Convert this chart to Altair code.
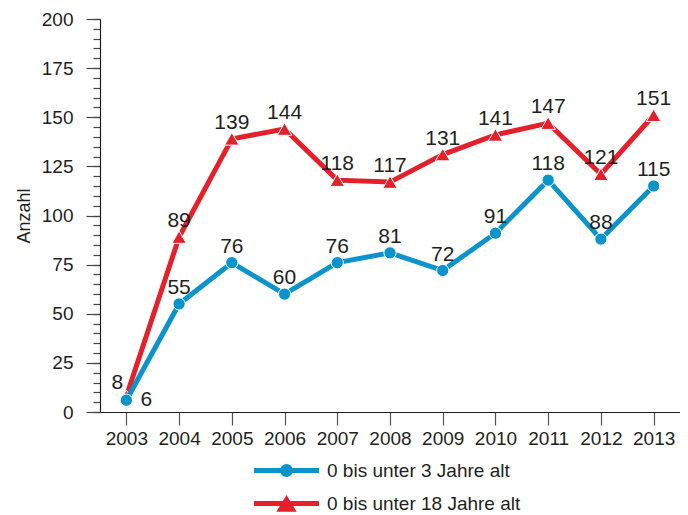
import altair as alt
import pandas as pd

years = [str(y) for y in range(2003, 2014)]
under3 = [6, 55, 76, 60, 76, 81, 72, 91, 118, 88, 115]
under18 = [8, 89, 139, 144, 118, 117, 131, 141, 147, 121, 151]
series = ["0 bis unter 3 Jahre alt", "0 bis unter 18 Jahre alt"]
colors = ["#0a94cb", "#e5202a"]
major_ticks = list(range(0, 201, 25))
minor_ticks = list(range(0, 201, 5))

rows = []
for s, vals in zip(series, [under3, under18]):
    for y, v in zip(years, vals):
        rows.append({"Jahr": y, "Anzahl": v, "Reihe": s})
df = pd.DataFrame(rows)

FONT = "Liberation Sans"
TXT = "#231f20"

x_enc = alt.X(
    "Jahr:O",
    scale=alt.Scale(type="point", padding=0.5),
    axis=alt.Axis(
        title=None, labelAngle=0, tickSize=13, tickColor="#555", tickWidth=1.2,
        domainColor=TXT, domainWidth=1.2, labelFontSize=19, labelColor=TXT,
        labelPadding=4, labelFont=FONT, grid=False,
    ),
)
y_scale = alt.Scale(domain=[0, 200], nice=False)
y_main = alt.Y(
    "Anzahl:Q",
    scale=y_scale,
    axis=alt.Axis(
        orient="left", values=major_ticks, tickSize=14, tickColor="#444", tickWidth=1.2,
        domainColor=TXT, domainWidth=1.2, labelFontSize=19, labelColor=TXT,
        labelPadding=13, labelFont=FONT, grid=False, title="Anzahl",
        titleFontSize=18, titleFontWeight="normal", titleColor=TXT, titleFont=FONT,
        titlePadding=8,
    ),
)
y_minor = alt.Y(
    "Anzahl:Q",
    scale=y_scale,
    axis=alt.Axis(
        orient="left", values=minor_ticks, tickSize=7, tickColor="#444", tickWidth=1.2,
        labels=False, domain=False, grid=False, title=None,
    ),
)
y_enc = alt.Y("Anzahl:Q", scale=y_scale, axis=None)

base = alt.Chart(df)

main_axis_layer = base.mark_point(opacity=0).encode(x=x_enc, y=y_main)
minor_layer = base.mark_point(opacity=0).encode(x=x_enc, y=y_minor)

layers = []
shapes = ["circle", "triangle-up"]
sizes = [150, 210]

order = [1, 0]  # red first, blue on top
for i in order:
    s, c = series[i], colors[i]
    sub = base.transform_filter(alt.datum.Reihe == s)
    layers.append(sub.mark_line(color=c, strokeWidth=5).encode(x=x_enc, y=y_enc))
    layers.append(
        sub.mark_point(filled=True, shape=shapes[i], size=sizes[i], color=c,
                       opacity=1, stroke="white", strokeWidth=1).encode(x=x_enc, y=y_enc)
    )

for i in order:
    s = series[i]
    layers.append(
        base.transform_filter((alt.datum.Reihe == s) & (alt.datum.Jahr != "2003"))
        .mark_text(dy=-16, fontSize=21, color=TXT, font=FONT)
        .encode(x=x_enc, y=y_enc, text="Anzahl:Q")
    )

# first-year labels placed beside the points
layers.append(
    base.transform_filter((alt.datum.Reihe == series[0]) & (alt.datum.Jahr == "2003"))
    .mark_text(dx=20, dy=0, fontSize=21, color=TXT, font=FONT)
    .encode(x=x_enc, y=y_enc, text="Anzahl:Q")
)
layers.append(
    base.transform_filter((alt.datum.Reihe == series[1]) & (alt.datum.Jahr == "2003"))
    .mark_text(dx=-9, dy=-13, fontSize=21, color=TXT, font=FONT)
    .encode(x=x_enc, y=y_enc, text="Anzahl:Q")
)

legend_paths = [
    "M-6.5,0H6.5M-0.8,0A0.8,0.8 0 1,0 0.8,0A0.8,0.8 0 1,0 -0.8,0Z",
    "M-6.5,0H6.5M0,-0.75L1.15,1.15H-1.15Z",
]
leg = alt.Legend(
    title=None, orient="none", legendX=177, legendY=442, direction="vertical",
    labelFontSize=19, labelColor=TXT, labelFont=FONT, labelOffset=31, labelLimit=400,
    rowPadding=4, symbolStrokeWidth=5, symbolSize=100, symbolOpacity=1,
)
legend_layer = base.transform_filter(alt.datum.Anzahl < 0).mark_point(
    filled=True, size=100, strokeWidth=5, opacity=1
).encode(
    x=x_enc,
    y=y_enc,
    fill=alt.Fill("Reihe:N", scale=alt.Scale(domain=series, range=colors), legend=leg),
    stroke=alt.Stroke("Reihe:N", scale=alt.Scale(domain=series, range=colors), legend=leg),
    shape=alt.Shape("Reihe:N", scale=alt.Scale(domain=series, range=legend_paths), legend=leg),
)

chart = alt.layer(minor_layer, main_axis_layer, *layers, legend_layer).resolve_axis(
    y="independent"
).properties(
    width=580,
    height=393,
    autosize=alt.AutoSizeParams(type="none"),
    padding={"left": 92, "top": 11, "right": 0, "bottom": 102},
).configure_view(stroke=None)

chart.save("out.html", embed_options={"renderer": "svg", "actions": False})
